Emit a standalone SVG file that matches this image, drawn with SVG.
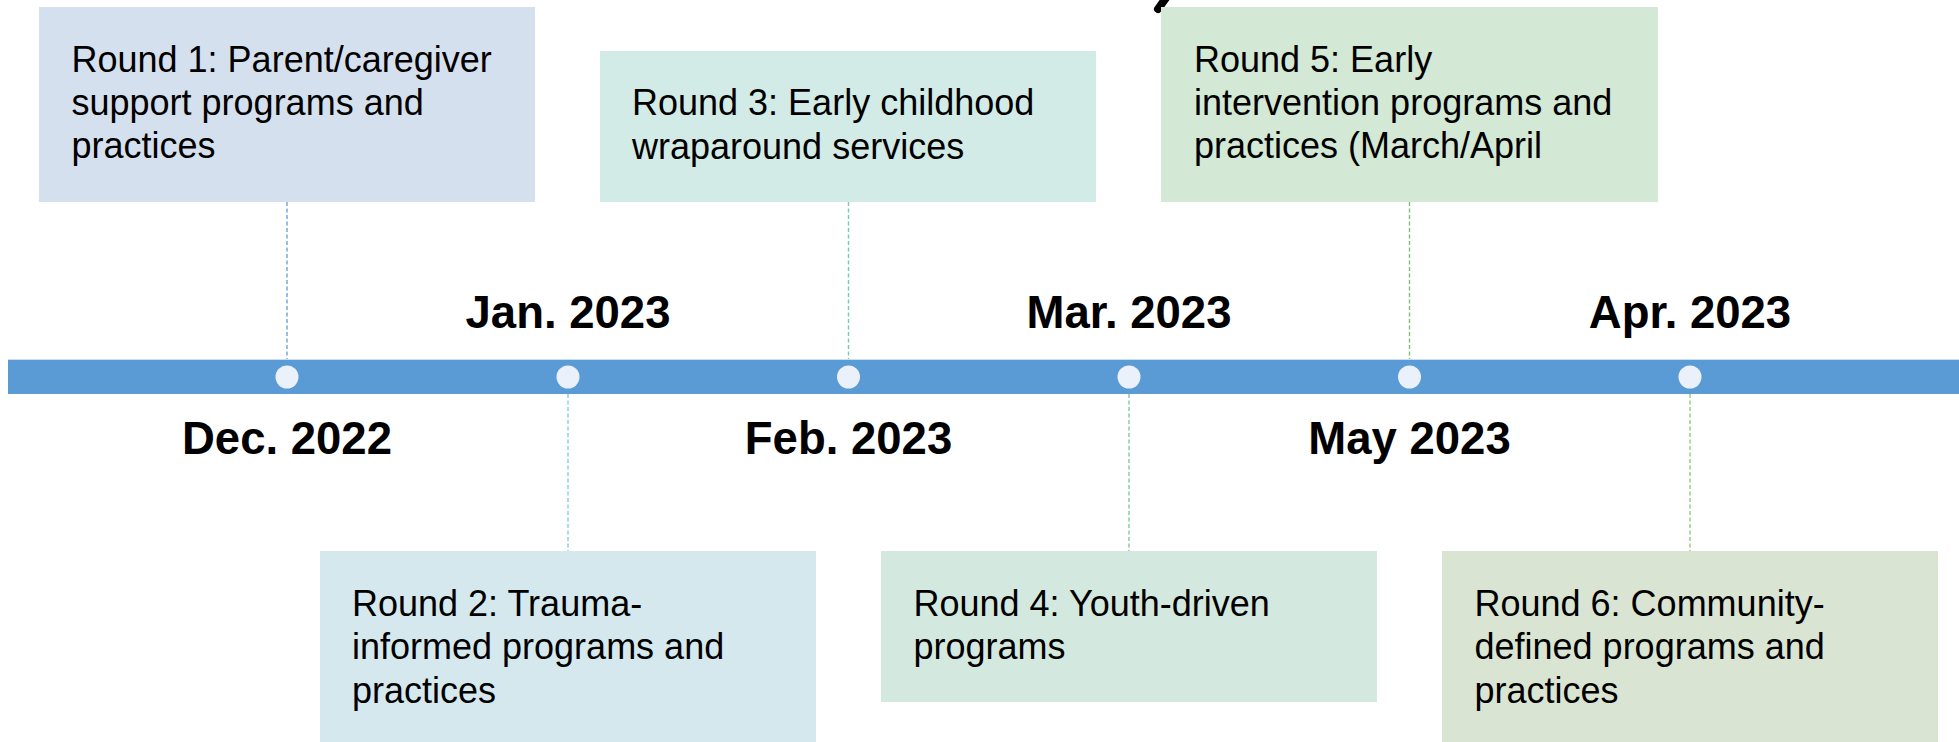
<svg xmlns="http://www.w3.org/2000/svg" width="1959" height="742" viewBox="0 0 1959 742">
  <style>
    .box-text { font-family: "Liberation Sans", Arial, sans-serif; font-size: 36px; fill: #000000; }
    .date { font-family: "Liberation Sans", Arial, sans-serif; font-size: 45.5px; font-weight: bold; fill: #000000; text-anchor: middle; }
    .conn { stroke-width: 1.4; stroke-dasharray: 4 2.5; fill: none; }
    .dot { fill: #EAF1FA; }
  </style>
  <rect x="0" y="0" width="1959" height="742" fill="#FFFFFF"/>

  <!-- title fragment at top -->
  <line x1="1166" y1="-2" x2="1158" y2="9" stroke="#000000" stroke-width="8" stroke-linecap="round"/>

  <!-- timeline bar -->
  <g id="timeline">
    <rect x="8" y="359" width="1951" height="35" fill="#5B9BD5"/>
    <line x1="8" y1="359.5" x2="1959" y2="359.5" stroke="#C9DCF0" stroke-width="1"/>
  </g>

  <!-- connectors -->
  <g id="connectors">
    <line class="conn" x1="287" y1="202" x2="287" y2="359" stroke="#6FA3D8"/>
    <line class="conn" x1="568" y1="394" x2="568" y2="551" stroke="#7DD2D8"/>
    <line class="conn" x1="848.5" y1="202" x2="848.5" y2="359" stroke="#6FCFA6"/>
    <line class="conn" x1="1129" y1="394" x2="1129" y2="551" stroke="#7FCC95"/>
    <line class="conn" x1="1409.5" y1="202" x2="1409.5" y2="359" stroke="#7CC46A"/>
    <line class="conn" x1="1690" y1="394" x2="1690" y2="551" stroke="#96C97A"/>
  </g>

  <!-- dots -->
  <g id="dots">
    <circle class="dot" cx="287" cy="377" r="11.5"/>
    <circle class="dot" cx="568" cy="377" r="11.5"/>
    <circle class="dot" cx="848.5" cy="377" r="11.5"/>
    <circle class="dot" cx="1129" cy="377" r="11.5"/>
    <circle class="dot" cx="1409.5" cy="377" r="11.5"/>
    <circle class="dot" cx="1690" cy="377" r="11.5"/>
  </g>

  <!-- date labels -->
  <g id="dates">
    <text class="date" x="287" y="454">Dec. 2022</text>
    <text class="date" x="568" y="328">Jan. 2023</text>
    <text class="date" x="848.5" y="454">Feb. 2023</text>
    <text class="date" x="1129" y="328">Mar. 2023</text>
    <text class="date" x="1409.5" y="454">May 2023</text>
    <text class="date" x="1690" y="328">Apr. 2023</text>
  </g>

  <g id="round1">
    <rect x="39" y="7" width="496" height="195" fill="#D5E0EE"/>
    <text class="box-text" x="71.5" y="72">Round 1: Parent/caregiver</text>
    <text class="box-text" x="71.5" y="115">support programs and</text>
    <text class="box-text" x="71.5" y="158">practices</text>
  </g>

  <g id="round2">
    <rect x="320" y="551" width="496" height="195" fill="#D5E8EE"/>
    <text class="box-text" x="352" y="616">Round 2: Trauma-</text>
    <text class="box-text" x="352" y="659">informed programs and</text>
    <text class="box-text" x="352" y="703">practices</text>
  </g>

  <g id="round3">
    <rect x="600" y="51" width="496" height="151" fill="#D3EBE6"/>
    <text class="box-text" x="632" y="115">Round 3: Early childhood</text>
    <text class="box-text" x="632" y="159">wraparound services</text>
  </g>

  <g id="round4">
    <rect x="881" y="551" width="496" height="151" fill="#D3E9DF"/>
    <text class="box-text" x="913.5" y="616">Round 4: Youth-driven</text>
    <text class="box-text" x="913.5" y="659">programs</text>
  </g>

  <g id="round5">
    <rect x="1161" y="7" width="497" height="195" fill="#D3E8D5"/>
    <text class="box-text" x="1194" y="72">Round 5: Early</text>
    <text class="box-text" x="1194" y="115">intervention programs and</text>
    <text class="box-text" x="1194" y="158">practices (March/April</text>
  </g>

  <g id="round6">
    <rect x="1442" y="551" width="496" height="195" fill="#DAE4D3"/>
    <text class="box-text" x="1474.5" y="616">Round 6: Community-</text>
    <text class="box-text" x="1474.5" y="659">defined programs and</text>
    <text class="box-text" x="1474.5" y="703">practices</text>
  </g>
</svg>
